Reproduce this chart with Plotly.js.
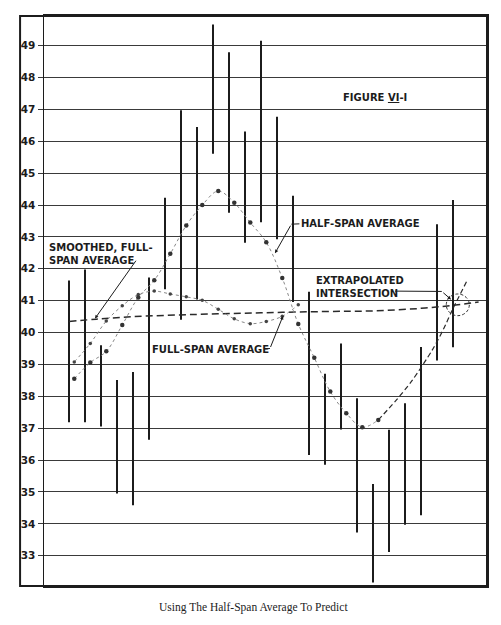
<!DOCTYPE html>
<html>
<head>
<meta charset="utf-8">
<script src="https://cdn.plot.ly/plotly-3.0.1.min.js"></script>
<style>
  html, body { margin: 0; padding: 0; background: #ffffff; }
  #chart { width: 501px; height: 625px; }
</style>
</head>
<body>
<div id="chart"></div>
<script>
// ---- Data (price scale 33-49) ----
// Daily bars: index 0..24
const barLows  = [37.19, 37.19, 37.05, 34.95, 34.58, 36.64, 41.36, 40.40, 41.04, 45.61,
                  43.76, 42.82, 43.46, 42.93, 40.96, 36.16, 35.85, 36.96, 33.73, 32.16,
                  33.12, 33.97, 34.27, 39.12, 39.54];
const barHighs = [41.63, 41.98, 39.60, 38.51, 38.76, 41.73, 44.23, 46.97, 46.45, 49.66,
                  48.79, 46.31, 49.15, 46.77, 44.29, 41.28, 38.71, 39.66, 37.94, 35.25,
                  36.95, 37.78, 39.55, 43.40, 44.16];

// Half-span average (large dots)
const halfSpanAvg = [38.55, 39.06, 39.41, 40.24, 41.10, 41.64, 42.47, 43.36, 44.00, 44.44,
                     44.07, 43.45, 42.83, 41.71, 40.27, 39.21, 38.15, 37.47, 37.03, 37.26];
// Full-span average (small dots)
const fullSpanAvg = [39.08, 39.66, 40.36, 40.84, 41.19, 41.30, 41.21, 41.12, 41.01, 40.73,
                     40.43, 40.28, 40.35, 40.51, 40.87];
const avgOffset = 0.33; // averages plotted slightly right of each bar

// Smoothed full-span average (dashed)
const smoothX = [0, 1.7, 4, 8, 12, 16, 19.1, 22, 24.3, 25.6];
const smoothY = [40.35, 40.42, 40.50, 40.57, 40.62, 40.66, 40.68, 40.76, 40.87, 40.96];

// Extrapolated half-span average (dashed curve)
const extrapX = [19.33, 20.4, 21.45, 22.7, 23.4, 23.95, 24.9];
const extrapY = [37.26, 37.85, 38.50, 39.45, 40.10, 40.70, 41.65];

// Extrapolated intersection point
const intersectX = 24.3, intersectY = 40.87;

const yTicks = [33, 34, 35, 36, 37, 38, 39, 40, 41, 42, 43, 44, 45, 46, 47, 48, 49];

// ---- Build traces ----
const barX = [], barY = [];
barLows.forEach((lo, i) => {
  barX.push(i, i, null);
  barY.push(lo, barHighs[i], null);
});

const ink = '#1c1c1c';
const traces = [
  { type: 'scatter', mode: 'lines', x: barX, y: barY,
    line: { color: ink, width: 2 }, hoverinfo: 'skip', showlegend: false },
  { type: 'scatter', mode: 'lines', x: smoothX, y: smoothY,
    line: { color: '#2a2a2a', width: 1.5, dash: '7px,4px', shape: 'spline' },
    hoverinfo: 'skip', showlegend: false },
  { type: 'scatter', mode: 'lines+markers',
    x: fullSpanAvg.map((_, k) => k + avgOffset), y: fullSpanAvg,
    line: { color: '#888', width: 1, dash: 'dot', shape: 'spline' },
    marker: { color: '#444', size: 3.5 }, showlegend: false },
  { type: 'scatter', mode: 'lines+markers',
    x: halfSpanAvg.map((_, k) => k + avgOffset), y: halfSpanAvg,
    line: { color: '#888', width: 1, dash: 'dot', shape: 'spline' },
    marker: { color: '#333', size: 4.5 }, showlegend: false },
  { type: 'scatter', mode: 'lines', x: extrapX, y: extrapY,
    line: { color: '#2a2a2a', width: 1.2, dash: '5px,3px', shape: 'spline', smoothing: 0.8 },
    hoverinfo: 'skip', showlegend: false }
];

// ---- Labels ----
const lblFont = { family: 'DejaVu Sans, Arial, sans-serif', size: 10, color: ink, weight: 'bold' };
const arrow = (hx, hy, tx, ty, head) => ({
  x: hx, y: hy, ax: tx, ay: ty, xref: 'x', yref: 'y', axref: 'x', ayref: 'y',
  text: '', showarrow: true, arrowhead: head ? 2 : 0, arrowsize: 0.7,
  arrowwidth: 1, arrowcolor: ink, standoff: 0, startstandoff: 0
});

const annotations = [
  { x: -1.375, y: 42.46, xref: 'x', yref: 'y', xanchor: 'left', yanchor: 'middle',
    align: 'left', showarrow: false, font: lblFont,
    text: 'SMOOTHED, FULL-<br>SPAN AVERAGE' },
  arrow(1.625, 40.44, 4.25, 42.30, true),
  { x: 14.4, y: 43.42, xref: 'x', yref: 'y', xanchor: 'left', yanchor: 'middle',
    showarrow: false, font: lblFont, text: 'HALF-SPAN AVERAGE' },
  arrow(12.875, 42.49, 13.9, 43.40, true),
  { x: 5.05, y: 39.47, xref: 'x', yref: 'y', xanchor: 'left', yanchor: 'middle',
    showarrow: false, font: lblFont, text: 'FULL-SPAN AVERAGE' },
  arrow(13.375, 40.52, 12.56, 39.50, true),
  { x: 15.3, y: 41.42, xref: 'x', yref: 'y', xanchor: 'left', yanchor: 'middle',
    align: 'left', showarrow: false, font: lblFont,
    text: 'EXTRAPOLATED<br>INTERSECTION' },
  arrow(23.875, 41.04, 23.3, 41.29, true),
  { x: 19.1, y: 47.36, xref: 'x', yref: 'y', xanchor: 'center', yanchor: 'middle',
    showarrow: false, font: lblFont, text: 'FIGURE <u>VI</u>-I' },
  { x: 0.472, y: -0.037, xref: 'paper', yref: 'paper', xanchor: 'center', yanchor: 'middle',
    showarrow: false,
    font: { family: 'Liberation Serif, Times New Roman, serif', size: 11.5, color: '#222' },
    text: 'Using The Half-Span Average To Predict' }
];

const shapes = [
  // outer frame (extends left of the value axis)
  { type: 'rect', xref: 'paper', yref: 'paper', x0: -0.054, x1: 1, y0: 0, y1: 1,
    line: { color: ink, width: 2 }, layer: 'above' },
  // leader pieces
  { type: 'line', xref: 'x', yref: 'y', x0: 13.9, y0: 43.40, x1: 14.4, y1: 43.41,
    line: { color: ink, width: 1 } },
  { type: 'line', xref: 'x', yref: 'y', x0: 12.2, y0: 39.49, x1: 12.56, y1: 39.50,
    line: { color: ink, width: 1 } },
  { type: 'line', xref: 'x', yref: 'y', x0: 20.375, y0: 41.30, x1: 23.3, y1: 41.29,
    line: { color: ink, width: 1 } },
  // dashed circle round the extrapolated intersection
  { type: 'circle', xref: 'x', yref: 'y',
    x0: intersectX - 0.72, x1: intersectX + 0.72,
    y0: intersectY - 0.34, y1: intersectY + 0.34,
    line: { color: '#333', width: 1, dash: '3px,2px' } }
];

const layout = {
  width: 501, height: 625,
  margin: { l: 44, r: 14, t: 16, b: 39, pad: 0 },
  paper_bgcolor: '#ffffff', plot_bgcolor: '#ffffff',
  showlegend: false,
  xaxis: { range: [-1.5625, 26.125], showgrid: false, zeroline: false,
           showticklabels: false, ticks: '', showline: true, mirror: true,
           linecolor: ink, linewidth: 2, fixedrange: true },
  yaxis: { range: [32.05, 49.93], tickvals: yTicks, ticktext: yTicks.map(String),
           showgrid: true, gridcolor: '#3a3a3a', gridwidth: 1, zeroline: false,
           ticks: 'outside', ticklen: 5, tickcolor: '#3a3a3a', tickwidth: 1,
           showline: true, mirror: true, linecolor: ink, linewidth: 1.5,
           tickfont: { family: 'DejaVu Sans, Arial, sans-serif', size: 10.5, color: ink, weight: 'bold' },
           fixedrange: true },
  annotations: annotations,
  shapes: shapes
};

Plotly.newPlot('chart', traces, layout, { displayModeBar: false, staticPlot: true });
</script>
</body>
</html>
